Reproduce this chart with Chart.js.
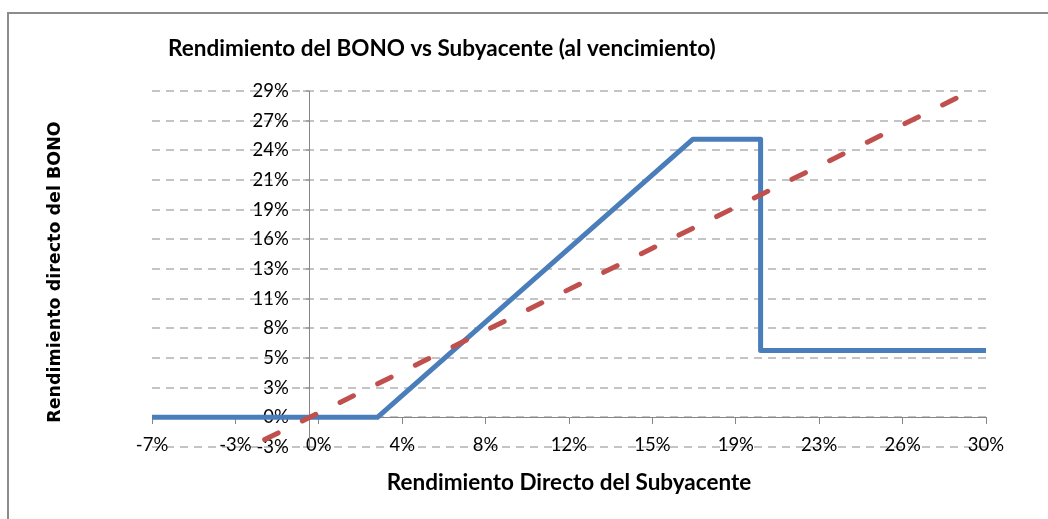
<!DOCTYPE html>
<html>
<head>
<meta charset="utf-8">
<script src="https://cdn.jsdelivr.net/npm/chart.js@4.4.1/dist/chart.umd.min.js"></script>
<style>
  html, body { margin: 0; padding: 0; background: #ffffff; overflow: hidden; }
  #frame { position: absolute; left: 7px; top: 12px; width: 1100px; height: 600px;
           border-left: 2px solid #8c8c8c; border-top: 2px solid #8c8c8c; }
  #c { position: absolute; left: 0; top: 0; }
</style>
</head>
<body>
<div id="frame"></div>
<canvas id="c" width="1048" height="519"></canvas>
<script>
// ---- data (values in %) ----
const chartTitle = 'Rendimiento del BONO vs Subyacente (al vencimiento)';
const xTitle = 'Rendimiento Directo del Subyacente';
const yTitle = 'Rendimiento directo del BONO';

const xTickValues = [-7, -3.3, 0.4, 4.1, 7.8, 11.5, 15.2, 18.9, 22.6, 26.3, 30];
const xTickLabels = ['-7%', '-3%', '0%', '4%', '8%', '12%', '15%', '19%', '23%', '26%', '30%'];
const yTickValues = [-2.6667, 0, 2.6667, 5.3333, 8, 10.6667, 13.3333, 16, 18.6667, 21.3333, 24, 26.6667, 29.3333];
const yTickLabels = ['-3%', '0%', '3%', '5%', '8%', '11%', '13%', '16%', '19%', '21%', '24%', '27%', '29%'];

const bonoX = [-7, 3, 17, 20, 20, 30];
const bonoY = [0, 0, 25, 25, 6, 6];
const subX = [-2, 30];
const subY = [-2, 30];

const xMin = -7, xMax = 30;
const yMin = -2.6667, yMax = 29.3333;

const tickFont = { family: 'Lato', size: 18.5, weight: 'normal' };
const titleFont = { family: 'Lato', size: 22.5, weight: 'bold' };
const AXIS = '#868686';

const textPlugin = {
  id: 'texts',
  afterDraw(chart) {
    const ctx = chart.ctx;
    ctx.save();
    ctx.fillStyle = '#000';
    ctx.font = 'bold 22.5px Lato';
    ctx.textAlign = 'left';
    ctx.textBaseline = 'alphabetic';
    ctx.fillText(chartTitle, 168, 56);
    ctx.translate(60, 272);
    ctx.rotate(-Math.PI / 2);
    ctx.font = 'bold 17.5px "DejaVu Sans"';
    ctx.textAlign = 'center';
    ctx.fillText(yTitle, 0, 0);
    ctx.restore();
  }
};

function setTicks(values) {
  return (scale) => { scale.ticks = values.map(v => ({ value: v })); };
}

function draw() {
  new Chart(document.getElementById('c'), {
    type: 'scatter',
    data: {
      datasets: [
        {
          label: 'Subyacente',
          data: subX.map((x, i) => ({ x: x, y: subY[i] })),
          showLine: true,
          borderColor: '#C0504D',
          borderWidth: 5,
          borderDash: [15, 27],
          borderCapStyle: 'round',
          pointRadius: 0,
          order: 0,
          clip: 0
        },
        {
          label: 'Bono',
          data: bonoX.map((x, i) => ({ x: x, y: bonoY[i] })),
          showLine: true,
          borderColor: '#4A7EBB',
          borderWidth: 5,
          borderJoinStyle: 'round',
          borderCapStyle: 'butt',
          pointRadius: 0,
          order: 1
        }
      ]
    },
    options: {
      responsive: false,
      animation: false,
      devicePixelRatio: 1,
      layout: { padding: { left: 152, right: 62, top: 91, bottom: 0 } },
      plugins: {
        legend: { display: false },
        tooltip: { enabled: false },
        title: { display: false }
      },
      scales: {
        // bottom axis: only carries the axis title
        x: {
          type: 'linear', position: 'bottom', min: xMin, max: xMax,
          afterBuildTicks: setTicks(xTickValues),
          grid: { display: false, drawTicks: false },
          border: { display: false },
          ticks: { display: false },
          title: {
            display: true, text: xTitle, color: '#000',
            font: titleFont,
            padding: { top: 0, bottom: 23 }
          },
          afterFit: (s) => { s.height = 72; }
        },
        // tick labels sitting on the bottom edge of the plot (Excel "low" labels)
        xl: {
          type: 'linear', axis: 'x', position: { y: yMin }, min: xMin, max: xMax,
          afterBuildTicks: setTicks(xTickValues),
          grid: { display: false, drawTicks: false },
          border: { display: false },
          ticks: {
            padding: -13, color: '#000', font: tickFont, maxRotation: 0, autoSkip: false,
            callback: (v, i) => xTickLabels[i]
          }
        },
        // horizontal axis line crossing at y = 0
        x2: {
          type: 'linear', axis: 'x', position: { y: 0 }, min: xMin, max: xMax,
          afterBuildTicks: setTicks(xTickValues),
          ticks: { display: false },
          grid: { drawOnChartArea: false, drawTicks: true, tickLength: 6, tickColor: AXIS, tickWidth: 1 },
          border: { display: true, color: AXIS, width: 1 }
        },
        // vertical axis line at x = 0 with dashed gridlines
        y: {
          type: 'linear', position: { x: 0 }, min: yMin, max: yMax,
          afterBuildTicks: setTicks(yTickValues),
          grid: { color: '#c4c4c4', lineWidth: 2, drawTicks: true, tickLength: 6, tickColor: AXIS, tickWidth: 1 },
          border: { display: true, color: AXIS, width: 1, dash: [8, 6] },
          ticks: { display: false }
        },
        // y tick labels, placed a little left of the vertical axis
        yl: {
          type: 'linear', axis: 'y', position: { x: -0.93 }, min: yMin, max: yMax,
          afterBuildTicks: setTicks(yTickValues),
          grid: { display: false, drawTicks: false },
          border: { display: false },
          ticks: {
            padding: 0, color: '#000', font: tickFont, autoSkip: false,
            callback: (v, i) => yTickLabels[i]
          }
        }
      }
    },
    plugins: [textPlugin]
  });
}

Promise.all([
  document.fonts.load('18.5px Lato'),
  document.fonts.load('bold 22.5px Lato'),
  document.fonts.load('bold 17.5px "DejaVu Sans"')
]).then(draw, draw);
</script>
</body>
</html>
